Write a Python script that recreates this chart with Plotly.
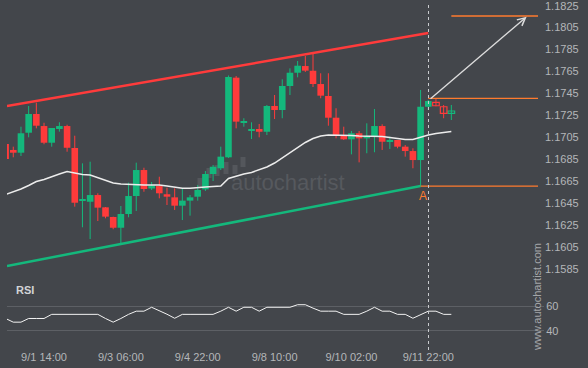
import plotly.graph_objects as go

W, H = 588, 368
BG = "#43464b"
GREEN = "#14b87c"
RED = "#ff3b3b"
ORANGE = "#ff7b2e"
TXT = "#b4b6b9"
FONT = "Liberation Sans, Arial, sans-serif"

# ---------------- data ----------------
tick_labels = ["9/1 14:00", "9/3 06:00", "9/4 22:00", "9/8 10:00", "9/10 02:00", "9/11 22:00"]
tick_index = [5, 15, 25, 35, 45, 55]

opens = [1.16989, 1.16935, 1.16910, 1.17092, 1.17263, 1.17153, 1.17001, 1.17135, 1.17153, 1.16953,
         1.16470, 1.16463, 1.16524, 1.16412, 1.16324, 1.16226, 1.16351, 1.16515, 1.16752, 1.16584,
         1.16606, 1.16531, 1.16503, 1.16427, 1.16473, 1.16509, 1.16576, 1.16716, 1.16768, 1.16868,
         1.17594, 1.17183, 1.17110, 1.17126, 1.17101, 1.17336, 1.17299, 1.17518, 1.17639, 1.17700,
         1.17657, 1.17536, 1.17427, 1.17229, 1.17069, 1.17032, 1.17087, 1.17041, 1.17062, 1.17153,
         1.17010, 1.17026, 1.16965, 1.16925, 1.16843, 1.17329, 1.17369, 1.17329, 1.17269]
highs = [1.16995, 1.16965, 1.17147, 1.17336, 1.17366, 1.17183, 1.17135, 1.17187, 1.17165, 1.17065,
         1.16813, 1.16828, 1.16540, 1.16415, 1.16327, 1.16424, 1.16637, 1.16819, 1.16773, 1.16643,
         1.16691, 1.16591, 1.16585, 1.16585, 1.16524, 1.16616, 1.16743, 1.16798, 1.16965, 1.17614,
         1.17609, 1.17224, 1.17187, 1.17172, 1.17345, 1.17436, 1.17579, 1.17679, 1.17746, 1.17792,
         1.17810, 1.17634, 1.17634, 1.17315, 1.17147, 1.17108, 1.17108, 1.17178, 1.17308, 1.17169,
         1.17056, 1.17026, 1.16980, 1.16950, 1.17482, 1.17390, 1.17406, 1.17345, 1.17345]
lows = [1.16850, 1.16868, 1.16880, 1.17050, 1.17132, 1.16987, 1.16965, 1.17102, 1.16919, 1.16418,
        1.16230, 1.16123, 1.16287, 1.16312, 1.16212, 1.16069, 1.16321, 1.16379, 1.16554, 1.16570,
        1.16494, 1.16433, 1.16388, 1.16296, 1.16336, 1.16473, 1.16561, 1.16652, 1.16752, 1.16862,
        1.17132, 1.17147, 1.17035, 1.17050, 1.17071, 1.17217, 1.17224, 1.17436, 1.17597, 1.17646,
        1.17509, 1.17406, 1.17156, 1.17041, 1.17026, 1.16895, 1.16822, 1.16905, 1.16914, 1.16935,
        1.16944, 1.16950, 1.16874, 1.16768, 1.16600, 1.17299, 1.17333, 1.17224, 1.17208]
closes = [1.16853, 1.16910, 1.17087, 1.17263, 1.17156, 1.17001, 1.17135, 1.17153, 1.16955, 1.16454,
          1.16482, 1.16524, 1.16409, 1.16327, 1.16226, 1.16351, 1.16515, 1.16752, 1.16579, 1.16611,
          1.16540, 1.16509, 1.16427, 1.16473, 1.16503, 1.16570, 1.16716, 1.16782, 1.16874, 1.17600,
          1.17193, 1.17199, 1.17126, 1.17101, 1.17336, 1.17299, 1.17518, 1.17639, 1.17703, 1.17658,
          1.17536, 1.17430, 1.17229, 1.17071, 1.17032, 1.17087, 1.17041, 1.17062, 1.17153, 1.17010,
          1.17026, 1.16965, 1.16925, 1.16843, 1.17329, 1.17381, 1.17338, 1.17269, 1.17290]
moving_avg = [1.16529, 1.16552, 1.16579, 1.16611, 1.16647, 1.16666, 1.16693, 1.16716, 1.16739, 1.16725,
              1.16711, 1.16707, 1.16684, 1.16657, 1.16634, 1.16625, 1.16620, 1.16620, 1.16616, 1.16616,
              1.16616, 1.16606, 1.16593, 1.16585, 1.16585, 1.16588, 1.16597, 1.16602, 1.16606, 1.16675,
              1.16698, 1.16716, 1.16730, 1.16757, 1.16780, 1.16816, 1.16862, 1.16907, 1.16957, 1.17003,
              1.17039, 1.17062, 1.17071, 1.17071, 1.17071, 1.17067, 1.17062, 1.17062, 1.17062, 1.17058,
              1.17049, 1.17039, 1.17030, 1.17030, 1.17053, 1.17071, 1.17085, 1.17094, 1.17103]
rsi = [50, 47, 47, 50, 50, 50, 53.4, 53.4, 53.4, 53.4,
       53.4, 53.4, 53.4, 50, 47, 50, 53.4, 56, 56, 59.2,
       56.5, 53.5, 50.2, 53.4, 53.4, 53.4, 53.4, 53.4, 56, 59.2,
       56, 59.2, 59.2, 56, 59.2, 59.2, 59.2, 59.2, 61.3, 61.3,
       58.5, 56, 56, 56, 53.4, 53.4, 53.4, 56, 59.2, 56,
       56, 53.4, 53.4, 50.2, 53, 56, 56, 53.4, 53.4]
hollow_start = 56   # last candles drawn as outlines

price_ticks = [1.1585, 1.1605, 1.1625, 1.1645, 1.1665, 1.1685, 1.1705,
               1.1725, 1.1745, 1.1765, 1.1785, 1.1805, 1.1825]
rsi_ticks = [40, 60]

upper_x, upper_y = [0.18, 55], [1.17335, 1.18001]
lower_x, lower_y = [0.18, 54], [1.15877, 1.16606]
level_a_x, level_a = [54, 69.3], 1.16606
level_entry_x, level_entry = [55, 69.3], 1.17406
level_target_x, level_target = [58, 69.3], 1.18156
arrow_from = (55.1, 1.17390)
arrow_to = (67.8, 1.18150)
signal_index = 55.03

# ---------------- layout geometry (pixels) ----------------
X_L, X_R = 7, 538
X0, DX = 5.6, 7.685
MAIN_TOP, MAIN_BOT = 0, 278
RSI_TOP, RSI_BOT = 281.9, 342.9
P_TOP, P_PER_PX = 1.18302, 0.00009116

def fx(p):
    return p / W

def fy(p):
    return 1 - p / H

xr = [(X_L - X0) / DX, (X_R - X0) / DX]
yr = [P_TOP - P_PER_PX * MAIN_BOT, P_TOP]

fig = go.Figure()

n = len(opens)
idx = list(range(n))

# wicks
for col, cond in ((GREEN, lambda i: closes[i] >= opens[i]), (RED, lambda i: closes[i] < opens[i])):
    wx, wy = [], []
    for i in idx:
        if cond(i):
            wx += [i, i, None]
            wy += [lows[i], highs[i], None]
    fig.add_trace(go.Scatter(x=wx, y=wy, mode="lines", line=dict(color=col, width=1),
                             hoverinfo="skip", showlegend=False, xaxis="x", yaxis="y"))

# bodies
for col, up in ((GREEN, True), (RED, False)):
    for hollow in (False, True):
        sel = [i for i in idx if ((closes[i] >= opens[i]) == up) and ((i >= hollow_start) == hollow)]
        if not sel:
            continue
        fig.add_trace(go.Bar(
            x=sel,
            base=[min(opens[i], closes[i]) for i in sel],
            y=[max(abs(closes[i] - opens[i]), 0.00012) for i in sel],
            width=0.86,
            marker=dict(color=BG if hollow else col,
                        line=dict(color=col, width=1.2 if hollow else 0)),
            hoverinfo="skip", showlegend=False, xaxis="x", yaxis="y"))

# moving average
fig.add_trace(go.Scatter(x=idx, y=moving_avg, mode="lines", line=dict(color="#ececec", width=1.5),
                         hoverinfo="skip", showlegend=False, xaxis="x", yaxis="y"))

# channel
fig.add_trace(go.Scatter(x=upper_x, y=upper_y, mode="lines", line=dict(color=RED, width=2.5),
                         hoverinfo="skip", showlegend=False, xaxis="x", yaxis="y"))
fig.add_trace(go.Scatter(x=lower_x, y=lower_y, mode="lines", line=dict(color=GREEN, width=2.5),
                         hoverinfo="skip", showlegend=False, xaxis="x", yaxis="y"))

# levels
for lx, lv in ((level_a_x, level_a), (level_entry_x, level_entry), (level_target_x, level_target)):
    fig.add_trace(go.Scatter(x=lx, y=[lv, lv], mode="lines", line=dict(color=ORANGE, width=1.3),
                             hoverinfo="skip", showlegend=False, xaxis="x", yaxis="y"))

# RSI
fig.add_trace(go.Scatter(x=idx, y=rsi, mode="lines", line=dict(color="#f2f2f2", width=1),
                         hoverinfo="skip", showlegend=False, xaxis="x2", yaxis="y2"))

shapes = [
    dict(type="line", xref="x", yref="paper", x0=signal_index, x1=signal_index,
         y0=fy(350), y1=fy(4), line=dict(color="#c9cbce", width=1, dash="3px,3px"), layer="above"),
]
# watermark logo bars (decorative)
for bx, bt, bb in ((200, 178, 187), (209, 168, 178), (217, 165, 176), (226, 162, 174),
                   (235, 165, 174), (243, 157, 167)):
    shapes.append(dict(type="rect", xref="paper", yref="paper", x0=fx(bx - 2.5), x1=fx(bx + 2.5),
                       y0=fy(bb), y1=fy(bt), fillcolor="#54575c", line=dict(width=0), layer="below"))

annotations = [
    dict(x=arrow_to[0], y=arrow_to[1], ax=arrow_from[0], ay=arrow_from[1], xref="x", yref="y",
         axref="x", ayref="y", showarrow=True, arrowhead=5, arrowsize=1.1, arrowwidth=1.4,
         arrowcolor="#dcdcdc", text=""),
    dict(x=54.35, y=level_a, xref="x", yref="y", text="A", showarrow=False, yanchor="top", yshift=-1,
         font=dict(family=FONT, size=12, color=ORANGE)),
    dict(x=fx(14), y=fy(290), xref="paper", yref="paper", text="<b>RSI</b>", showarrow=False,
         xanchor="left", yanchor="middle", font=dict(family=FONT, size=11, color="#d2d4d6")),
    dict(x=fx(288), y=fy(183), xref="paper", yref="paper", text="autochartist", showarrow=False,
         xanchor="center", yanchor="middle", font=dict(family=FONT, size=22, color="#56595e")),
    dict(x=fx(537), y=fy(297), xref="paper", yref="paper", text="www.autochartist.com", showarrow=False,
         textangle=-90, xanchor="center", yanchor="middle", font=dict(family=FONT, size=11, color="#a3a5a8")),
]

fig.update_layout(
    width=W, height=H, margin=dict(l=0, r=0, t=0, b=0),
    paper_bgcolor=BG, plot_bgcolor=BG, barmode="overlay", showlegend=False,
    font=dict(family=FONT, size=11, color=TXT),
    xaxis=dict(domain=[fx(X_L), fx(X_R)], range=xr, anchor="y", showticklabels=False,
               showgrid=False, zeroline=False, showline=False, ticks=""),
    yaxis=dict(domain=[fy(MAIN_BOT), fy(MAIN_TOP)], range=yr, anchor="x", side="right",
               tickvals=price_ticks, tickformat=".4f", showgrid=False, zeroline=False,
               showline=False, ticks="", ticklabelstandoff=6, ticklabeloverflow="allow",
               tickfont=dict(family=FONT, size=11, color=TXT)),
    xaxis2=dict(domain=[fx(X_L), fx(X_R)], matches="x", anchor="y2", tickvals=tick_index,
                ticktext=tick_labels, showgrid=False, zeroline=False, showline=False, ticks="",
                ticklabelstandoff=6, tickfont=dict(family=FONT, size=11, color=TXT)),
    yaxis2=dict(domain=[fy(RSI_BOT), fy(RSI_TOP)], range=[30, 80], anchor="x2", side="right",
                tickvals=rsi_ticks, showgrid=True, gridcolor="#5d6065", gridwidth=1, zeroline=False,
                showline=False, ticks="outside", ticklen=5, tickcolor="#5d6065",
                tickfont=dict(family=FONT, size=11, color=TXT)),
    shapes=shapes, annotations=annotations,
)

fig.write_html("out.html")
